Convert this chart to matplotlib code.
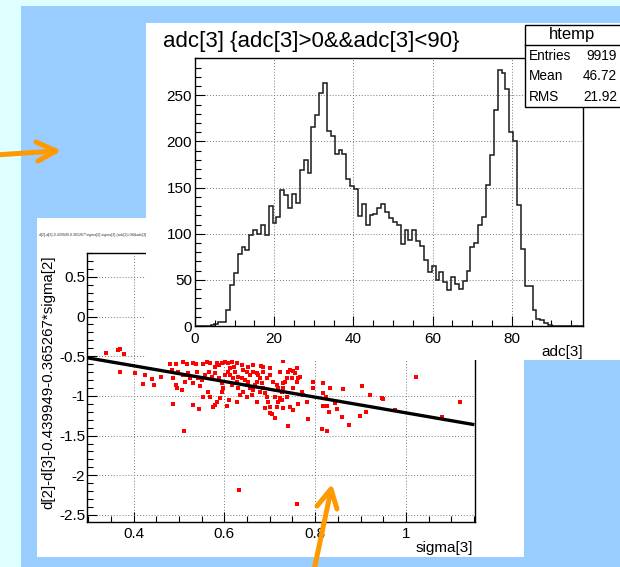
import numpy as np
import matplotlib
matplotlib.use("Agg")
import matplotlib.pyplot as plt
from matplotlib.patches import Rectangle
from matplotlib.lines import Line2D
from matplotlib.ticker import MultipleLocator

plt.rcParams['font.family'] = ['Liberation Sans', 'DejaVu Sans']

# ---------------- data ----------------
# histogram adc[3] : 100 bins over [0, 98]
adc_edges_range = (0.0, 98.0)
adc_counts = [0, 0, 0, 0, 1, 2, 4, 4, 17, 44, 57, 78, 86, 82, 99, 104, 100, 110, 99, 130,
              112, 118, 147, 142, 128, 143, 133, 169, 180, 166, 216, 229, 252, 263, 211, 206,
              186, 191, 186, 159, 152, 149, 119, 132, 110, 120, 121, 128, 132, 124, 117, 113,
              110, 89, 104, 93, 104, 92, 87, 71, 59, 65, 50, 58, 48, 39, 53, 45, 40, 49, 60,
              86, 90, 109, 118, 153, 185, 234, 277, 274, 257, 210, 200, 131, 83, 43, 43, 17,
              8, 7, 3, 1, 0, 0, 0, 0, 0, 0, 0, 0]
stats_labels = ["Entries", "Mean", "RMS"]
stats_values = ["9919", "46.72", "21.92"]

# scatter: sigma[3] vs residual
sigma3 = [0.340, 0.366, 0.370, 0.379, 0.371, 0.403, 0.425, 0.440, 0.421, 0.445, 0.460, 0.480,
          0.484, 0.493, 0.498, 0.509, 0.517, 0.530, 0.537, 0.553, 0.561, 0.568, 0.584, 0.589,
          0.594, 0.601, 0.609, 0.616, 0.621, 0.627, 0.638, 0.653, 0.664, 0.681, 0.728, 0.487,
          0.493, 0.495, 0.506, 0.513, 0.517, 0.520, 0.524, 0.531, 0.487, 0.531, 0.544, 0.511,
          0.579, 0.583, 0.590, 0.594, 0.598, 0.605, 0.611, 0.616, 0.620, 0.627, 0.631, 0.634,
          0.642, 0.649, 0.653, 0.656, 0.660, 0.664, 0.667, 0.671, 0.675, 0.678, 0.682, 0.686,
          0.689, 0.693, 0.697, 0.700, 0.704, 0.711, 0.715, 0.719, 0.722, 0.726, 0.730, 0.733,
          0.737, 0.741, 0.744, 0.748, 0.752, 0.755, 0.759, 0.763, 0.766, 0.770, 0.774, 0.781,
          0.785, 0.741, 0.763, 0.744, 0.752, 0.730, 0.796, 0.796, 0.818, 0.833, 0.818, 0.823,
          0.818, 0.825, 0.831, 0.844, 0.847, 0.858, 0.862, 0.875, 0.902, 0.899, 0.913, 0.921,
          0.948, 0.950, 0.976, 1.023, 1.080, 1.119, 0.816, 0.827, 0.633, 0.761, 0.563, 0.568,
          0.546, 0.542, 0.550, 0.557, 0.565, 0.572, 0.579, 0.587, 0.594, 0.601, 0.609, 0.612,
          0.623, 0.631, 0.638, 0.645, 0.656, 0.664, 0.671, 0.686, 0.693, 0.700, 0.708, 0.715,
          0.722, 0.730, 0.574, 0.553, 0.612, 0.642, 0.686, 0.700, 0.509, 0.539, 0.579, 0.649,
          0.678, 0.711, 0.737, 0.719, 0.752, 0.759, 0.671, 0.649, 0.627, 0.689, 0.700, 0.726]
resid = [-0.465, -0.423, -0.411, -0.478, -0.696, -0.717, -0.738, -0.788, -0.851, -0.864, -0.759,
         -0.600, -0.675, -0.604, -0.696, -0.570, -0.600, -0.591, -0.604, -0.604, -0.570, -0.591,
         -0.591, -0.612, -0.591, -0.570, -0.591, -0.570, -0.633, -0.591, -0.612, -0.633, -0.612,
         -0.620, -0.557, -0.780, -0.864, -0.906, -0.927, -0.822, -0.738, -0.717, -0.772, -0.843,
         -1.107, -1.116, -1.166, -1.443, -1.116, -1.074, -1.023, -0.948, -0.906, -1.124, -1.053,
         -0.864, -0.780, -0.822, -0.906, -0.990, -0.948, -0.864, -0.822, -0.906, -0.990, -0.927,
         -0.864, -0.822, -0.738, -0.780, -0.843, -0.906, -0.969, -1.011, -1.074, -1.137, -1.233,
         -1.283, -1.137, -1.074, -1.023, -0.948, -0.906, -0.822, -0.780, -0.696, -0.675, -0.780,
         -0.683, -0.717, -0.646, -0.780, -0.759, -0.948, -0.990, -1.074, -1.292, -1.376, -1.107,
         -1.137, -1.179, -1.158, -0.822, -0.906, -0.843, -0.906, -0.969, -1.011, -1.128, -1.128,
         -1.200, -1.095, -1.166, -1.262, -0.914, -1.367, -0.872, -1.250, -1.208, -0.990, -1.023,
         -1.040, -1.179, -0.759, -1.271, -1.082, -1.422, -1.439, -2.186, -2.358, -0.948, -1.011,
         -0.872, -0.780, -0.801, -0.738, -0.696, -0.759, -0.717, -0.780, -0.843, -0.738, -0.696,
         -0.738, -0.696, -0.759, -0.780, -0.801, -0.738, -0.696, -0.717, -0.696, -0.780, -0.738,
         -0.822, -0.864, -0.696, -0.843, -1.137, -1.011, -0.654, -0.675, -0.633, -0.654, -0.738,
         -0.696, -0.633, -0.696, -0.948, -1.011, -1.011, -0.906, -0.906, -0.822, -1.074, -1.011,
         -1.074, -1.158, -1.221, -1.053]
fit_x = [0.298, 1.147]
fit_y = [-0.520, -1.359]

W, H = 620.0, 567.0
fig = plt.figure(figsize=(6.2, 5.67), dpi=100)
fig.patch.set_facecolor('#DDFFFF')


def fx(x):
    return x / W


def fy(y):
    return 1 - y / H


def rect(x0, y0, x1, y1, fc, z, ec='none', lw=0):
    fig.add_artist(Rectangle((fx(x0), fy(y1)), (x1 - x0) / W, (y1 - y0) / H,
                             transform=fig.transFigure, facecolor=fc, edgecolor=ec,
                             linewidth=lw, zorder=z))


rect(21, 6, 640, 580, '#99CCFF', -10)
rect(37, 218, 524, 557, 'white', -9)


def root_style(ax):
    ax.tick_params(which='both', direction='in', top=False, right=False,
                   labelsize=11, colors='black')
    ax.tick_params(which='major', length=7, width=0.8)
    ax.tick_params(which='minor', length=4, width=0.8)
    ax.grid(True, which='major', linestyle=(0, (1, 2)), color='#777777', linewidth=0.7)
    for s in ax.spines.values():
        s.set_linewidth(1.0)
        s.set_color('black')


# ---------------- scatter axes ----------------
ax2 = fig.add_axes([fx(87.3), fy(521.7), (475 - 87.3) / W, (521.7 - 253) / H], zorder=1)
ax2.set_facecolor('white')
ax2.scatter(sigma3, resid, s=5, marker='s', color='#FF0000', linewidths=0, zorder=3)
ax2.plot(fit_x, fit_y, color='black', lw=2.4, zorder=4)
ax2.set_xlim(0.298, 1.152)
ax2.set_ylim(-2.585, 0.80)
ax2.xaxis.set_major_locator(MultipleLocator(0.2))
ax2.xaxis.set_minor_locator(MultipleLocator(0.05))
ax2.yaxis.set_major_locator(MultipleLocator(0.5))
ax2.yaxis.set_minor_locator(MultipleLocator(0.1))
root_style(ax2)
ax2.tick_params(axis='y', pad=1.5)
ax2.tick_params(axis='x', pad=4)
ax2.set_xticks([0.4, 0.6, 0.8, 1.0])
ax2.set_xticklabels(['0.4', '0.6', '0.8', '1'])
ax2.set_yticks([0.5, 0, -0.5, -1, -1.5, -2, -2.5])
ax2.set_yticklabels(['0.5', '0', '-0.5', '-1', '-1.5', '-2', '-2.5'])
fig.text(fx(473), fy(548), 'sigma[3]', ha='right', va='center', fontsize=11, zorder=1.5)
fig.text(fx(48), fy(382), 'd[2]-d[3]-0.439949-0.365267*sigma[2]', rotation=90,
         ha='center', va='center', fontsize=10.8, zorder=1.5)
fig.text(fx(39), fy(235), 'd[2]-d[3]-0.439949-0.365267*sigma[2]:sigma[3] {adc[2]>0&&adc[3]>0&&sigma[2]<2}',
         ha='left', va='center', fontsize=2.6, color='#333333', zorder=1.5)

# ---------------- histogram panel ----------------
rect(146, 23, 640, 360, 'white', 2)
ax1 = fig.add_axes([fx(195), fy(326), (583 - 195) / W, (326 - 57.7) / H], zorder=3)
ax1.set_facecolor('white')
edges = np.linspace(adc_edges_range[0], adc_edges_range[1], len(adc_counts) + 1)
ax1.stairs(adc_counts, edges, color='#1a1a1a', linewidth=1.1, zorder=3)
ax1.set_xlim(0, 98)
ax1.set_ylim(0, 290.8)
ax1.xaxis.set_major_locator(MultipleLocator(20))
ax1.xaxis.set_minor_locator(MultipleLocator(5))
ax1.yaxis.set_major_locator(MultipleLocator(50))
ax1.yaxis.set_minor_locator(MultipleLocator(10))
root_style(ax1)
ax1.tick_params(axis='y', pad=2)
ax1.tick_params(axis='x', pad=4.5)
fig.text(fx(583), fy(352), 'adc[3]', ha='right', va='center', fontsize=11, zorder=3.5)
fig.text(fx(163), fy(47), 'adc[3] {adc[3]>0&&adc[3]<90}', ha='left', va='baseline',
         fontsize=16, zorder=3.5)

# stats box
rect(525, 25, 640, 107, 'white', 4, ec='black', lw=1.0)
fig.add_artist(Line2D([fx(525), fx(620)], [fy(45), fy(45)], transform=fig.transFigure,
                      color='black', lw=1.0, zorder=4.5))
fig.text(fx(572), fy(35), 'htemp', ha='center', va='center', fontsize=12, zorder=5)
for i, (lab, val) in enumerate(zip(stats_labels, stats_values)):
    yy = 56 + 20.5 * i
    fig.text(fx(529), fy(yy), lab, ha='left', va='center', fontsize=9.8, zorder=5)
    fig.text(fx(617), fy(yy), val, ha='right', va='center', fontsize=9.8, zorder=5)

# ---------------- arrows ----------------
orange = '#FF9900'


def pline(pts, z=20):
    xs = [fx(p[0]) for p in pts]
    ys = [fy(p[1]) for p in pts]
    fig.add_artist(Line2D(xs, ys, transform=fig.transFigure, color=orange, lw=3.6,
                          solid_capstyle='round', solid_joinstyle='round', zorder=z))


pline([(-5, 155), (56, 151)])
pline([(36, 142), (56, 151), (38, 161)])
pline([(313, 575), (331, 490)])
pline([(317, 506), (331, 489), (337, 509)])

fig.savefig('out.png', dpi=100, facecolor=fig.get_facecolor())
